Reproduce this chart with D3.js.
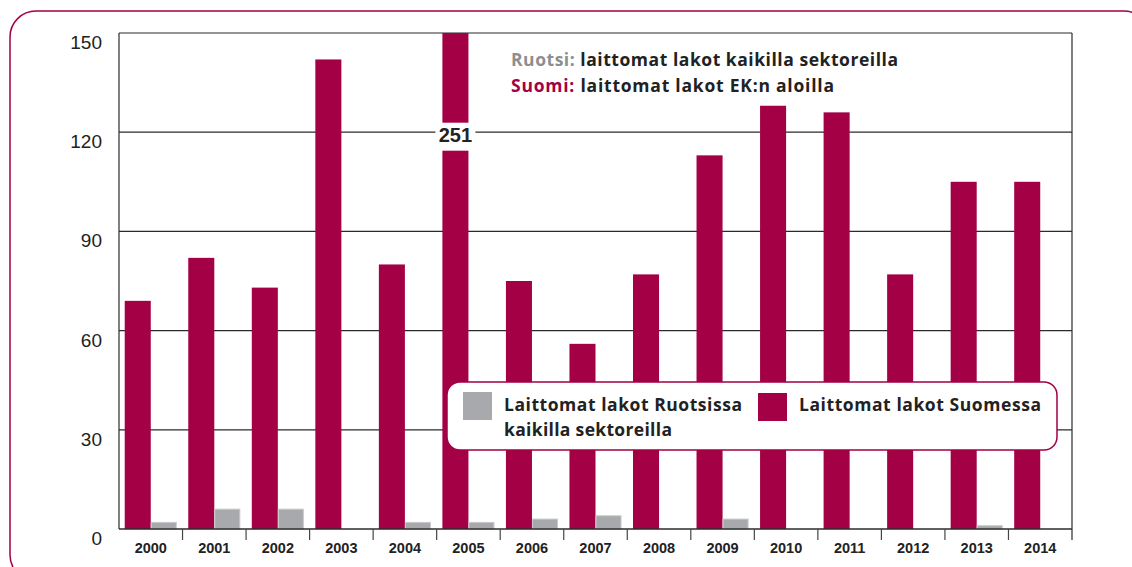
<!DOCTYPE html>
<html><head><meta charset="utf-8">
<script src="https://cdn.jsdelivr.net/npm/d3@7"></script>
<style>body{margin:0;background:#fff}svg{display:block}</style>
</head><body>
<svg id="c" width="1132" height="567"></svg>
<script>
const years = ["2000","2001","2002","2003","2004","2005","2006","2007","2008","2009","2010","2011","2012","2013","2014"];
const finland = [69,82,73,142,80,251,75,56,77,113,128,126,77,105,105];
const sweden = [2,6,6,0,2,2,3,4,0,3,0,0,0,1,0];
const yTicks = [0,30,60,90,120,150];
const seriesKeys = ["fi","se"];
const legendLabels = [["Laittomat lakot Ruotsissa","kaikilla sektoreilla"],["Laittomat lakot Suomessa"]];
const noteLines = [["Ruotsi:"," laittomat lakot kaikilla sektoreilla"],["Suomi:"," laittomat lakot EK:n aloilla"]];

const CRIMSON = "#a30046", GREY = "#a7a9ac", AX = "#2b2b2b";
const svg = d3.select("#c");
const L = 119, R = 1072, T = 33, B = 529;

// fit a text element to a target width via letter-spacing
function fit(t, w){
  const n = t.text().length;
  const len = t.node().getComputedTextLength();
  t.attr("letter-spacing", ((w-len)/Math.max(1,n-1)).toFixed(3));
}

// outer frame
svg.append("rect").attr("x",10).attr("y",11).attr("width",1140).attr("height",570)
  .attr("rx",26).attr("fill","none").attr("stroke",CRIMSON).attr("stroke-width",1.5);

const x = d3.scaleBand().domain(years).range([L,R]).padding(0);
const x1 = d3.scaleBand().domain(seriesKeys).range([0,x.bandwidth()]).paddingInner(0).paddingOuter(0.22);
const y = d3.scaleLinear().domain([0,150]).range([B,T]);
const yMax = 150;

// gridlines
svg.append("g").selectAll("line").data(yTicks.filter(d=>d>0)).join("line")
  .attr("x1",L).attr("x2",R).attr("y1",d=>y(d)).attr("y2",d=>y(d))
  .attr("stroke",AX).attr("stroke-width",1.2);

// bars
const g = svg.append("g");
g.selectAll("rect.fi").data(years).join("rect").attr("class","fi")
  .attr("x",d=>x(d)+x1("fi")).attr("width",x1.bandwidth())
  .attr("y",(d,i)=>y(Math.min(finland[i],yMax))).attr("height",(d,i)=>B-y(Math.min(finland[i],yMax)))
  .attr("fill",CRIMSON);
g.selectAll("rect.se").data(years).join("rect").attr("class","se")
  .attr("x",d=>x(d)+x1("se")+0.5).attr("width",x1.bandwidth()-1)
  .attr("y",(d,i)=>y(sweden[i])).attr("height",(d,i)=>B-y(sweden[i]))
  .attr("fill",GREY).attr("stroke","#c9cacc").attr("stroke-width",1)
  .attr("display",(d,i)=>sweden[i]>0?null:"none");

// axes frame
svg.append("line").attr("x1",L).attr("x2",L).attr("y1",T).attr("y2",B).attr("stroke",AX).attr("stroke-width",1.2);
svg.append("line").attr("x1",R).attr("x2",R).attr("y1",T).attr("y2",B+11).attr("stroke",AX).attr("stroke-width",1.2);
svg.append("line").attr("x1",L).attr("x2",R).attr("y1",B).attr("y2",B).attr("stroke",AX).attr("stroke-width",1.5);

// x ticks at band boundaries
svg.append("g").selectAll("line").data(years.slice(1)).join("line")
  .attr("x1",d=>x(d)).attr("x2",d=>x(d)).attr("y1",B).attr("y2",B+11)
  .attr("stroke","#444").attr("stroke-width",1.2);

// x labels
svg.append("g").selectAll("text").data(years).join("text")
  .attr("x",d=>x(d)+x.bandwidth()/2).attr("y",B+24)
  .attr("text-anchor","middle").attr("font-family","Liberation Sans, Arial, sans-serif")
  .attr("font-weight","bold").attr("font-size",14.5).attr("fill","#222").text(d=>d);

// y labels
svg.append("g").selectAll("text").data(yTicks).join("text")
  .attr("x",102).attr("y",d=>y(d)+16)
  .attr("text-anchor","end").attr("font-family","Liberation Sans, Arial, sans-serif")
  .attr("font-size",19).attr("fill","#222").text(d=>d);

// overflow label for 2005
const iOver = finland.findIndex(v=>v>yMax);
const cx = x(years[iOver]) + x1("fi") + x1.bandwidth()/2;
svg.append("rect").attr("x",cx-20).attr("y",y(120)-9.5).attr("width",40).attr("height",28).attr("fill","#fff");
svg.append("text").attr("x",cx).attr("y",y(120)+10).attr("text-anchor","middle")
  .attr("font-family","Liberation Sans, Arial, sans-serif").attr("font-weight","bold")
  .attr("font-size",20).attr("fill","#222").text(finland[iOver]);

// note
const FONT = "'Open Sans', Lato, sans-serif";
const note = svg.append("g");
const noteW = [387, 323];
noteLines.forEach((ln,i)=>{
  const t = note.append("text").attr("x",511).attr("y",66+i*25.5)
    .attr("font-family",FONT).attr("font-weight","bold").attr("font-size",17.5);
  t.append("tspan").attr("fill",i===0?"#8d8e90":CRIMSON).text(ln[0]);
  t.append("tspan").attr("fill","#222").text(ln[1]);
  fit(t, noteW[i]);
});

// legend
const lg = svg.append("g");
lg.append("rect").attr("x",447).attr("y",382).attr("width",610).attr("height",68).attr("rx",13)
  .attr("fill","#fff").attr("stroke",CRIMSON).attr("stroke-width",1.5);
const sw = [[463,392,GREY],[758,393,CRIMSON]];
const legW = [[238,168],[242]];
sw.forEach((s,i)=>{
  lg.append("rect").attr("x",s[0]).attr("y",s[1]).attr("width",29).attr("height",28).attr("fill",s[2]);
  legendLabels[i].forEach((line,j)=>{
    const t = lg.append("text").attr("x",s[0]+41).attr("y",411+j*25)
      .attr("font-family",FONT).attr("font-weight","bold").attr("font-size",17.5)
      .attr("fill","#222").text(line);
    fit(t, legW[i][j]);
  });
});
</script>
</body></html>
